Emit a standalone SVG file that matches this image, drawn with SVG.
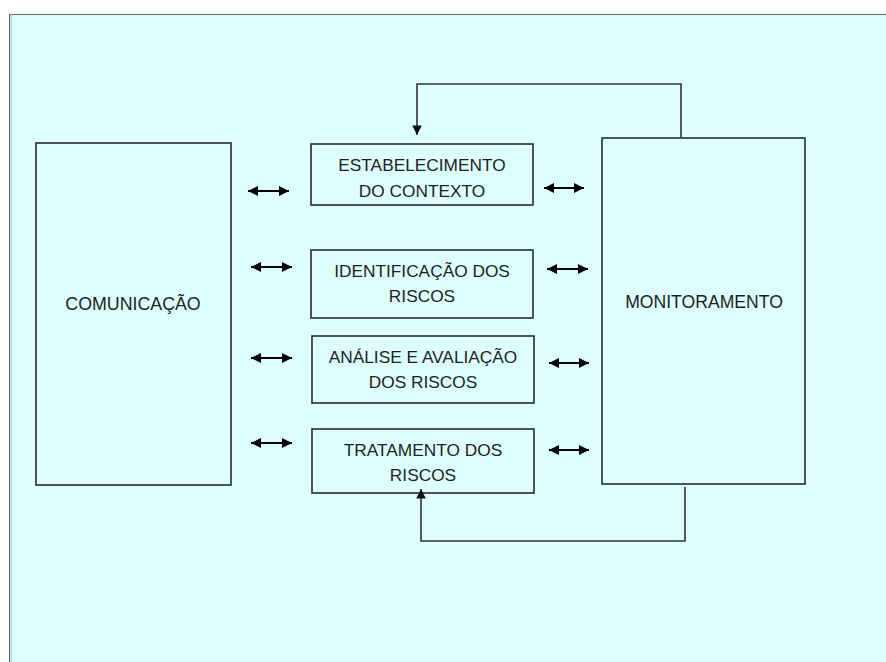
<svg xmlns="http://www.w3.org/2000/svg" width="886" height="662" viewBox="0 0 886 662">
  <style>
    .box { fill: none; stroke: #2a2a2a; stroke-width: 1.6; }
    .lbl { font-family: "Liberation Sans", Arial, sans-serif; font-size: 17.3px; fill: #1e1e1e; text-anchor: middle; }
    .conn { fill: none; stroke: #333; stroke-width: 1.6; }
    .dbl { fill: none; stroke: #000; stroke-width: 2; marker-start: url(#ah); marker-end: url(#ah); }
  </style>
  <defs>
    <marker id="ah" viewBox="0 0 10 10" refX="10" refY="5" markerWidth="5" markerHeight="5" orient="auto-start-reverse" markerUnits="strokeWidth">
      <path d="M0,0 L10,5 L0,10 z" fill="#000"/>
    </marker>
    <marker id="ah2" viewBox="0 0 10 10" refX="10" refY="5" markerWidth="7" markerHeight="6" orient="auto" markerUnits="strokeWidth">
      <path d="M0,0 L10,5 L0,10 z" fill="#111"/>
    </marker>
  </defs>

  <rect x="0" y="0" width="886" height="662" fill="#ffffff"/>
  <rect x="9" y="14" width="877" height="648" fill="#ddffff"/>
  <line x1="9" y1="14.5" x2="886" y2="14.5" stroke="#5f6b6b" stroke-width="1.2"/>
  <line x1="9.5" y1="14" x2="9.5" y2="662" stroke="#5f6b6b" stroke-width="1"/>
  <line x1="11" y1="14" x2="11" y2="662" stroke="#9aa" stroke-width="0.8"/>

  <g id="comunicacao">
    <rect class="box" x="36" y="143" width="195" height="342"/>
    <text class="lbl" x="133" y="310" style="font-size:17.8px">COMUNICAÇÃO</text>
  </g>
  <g id="monitoramento">
    <rect class="box" x="602" y="138" width="203" height="346"/>
    <text class="lbl" x="704" y="308" style="font-size:17.6px">MONITORAMENTO</text>
  </g>
  <g id="estabelecimento">
    <rect class="box" x="311" y="144" width="222" height="61"/>
    <text class="lbl" x="422" y="171"><tspan x="422">ESTABELECIMENTO</tspan><tspan x="422" y="197">DO CONTEXTO</tspan></text>
  </g>
  <g id="identificacao">
    <rect class="box" x="311" y="250" width="222" height="68"/>
    <text class="lbl" x="422" y="277"><tspan x="422">IDENTIFICAÇÃO DOS</tspan><tspan x="422" y="302">RISCOS</tspan></text>
  </g>
  <g id="analise">
    <rect class="box" x="312" y="336" width="222" height="67"/>
    <text class="lbl" x="423" y="363"><tspan x="423">ANÁLISE E AVALIAÇÃO</tspan><tspan x="423" y="388">DOS RISCOS</tspan></text>
  </g>
  <g id="tratamento">
    <rect class="box" x="312" y="429" width="222" height="64"/>
    <text class="lbl" x="423" y="456"><tspan x="423">TRATAMENTO DOS</tspan><tspan x="423" y="481">RISCOS</tspan></text>
  </g>

  <g id="connectors">
    <line class="dbl" x1="248" y1="191" x2="289" y2="191"/>
    <line class="dbl" x1="544" y1="188" x2="584" y2="188"/>
    <line class="dbl" x1="251" y1="267" x2="292" y2="267"/>
    <line class="dbl" x1="547" y1="269" x2="588" y2="269"/>
    <line class="dbl" x1="251" y1="358" x2="292" y2="358"/>
    <line class="dbl" x1="549" y1="363" x2="589" y2="363"/>
    <line class="dbl" x1="251" y1="443" x2="292" y2="443"/>
    <line class="dbl" x1="549" y1="450" x2="589" y2="450"/>
    <polyline class="conn" points="681,137 681,84 417,84 417,135" marker-end="url(#ah2)"/>
    <polyline class="conn" points="685,487 685,541 421,541 421,489" marker-end="url(#ah2)"/>
  </g>
</svg>
